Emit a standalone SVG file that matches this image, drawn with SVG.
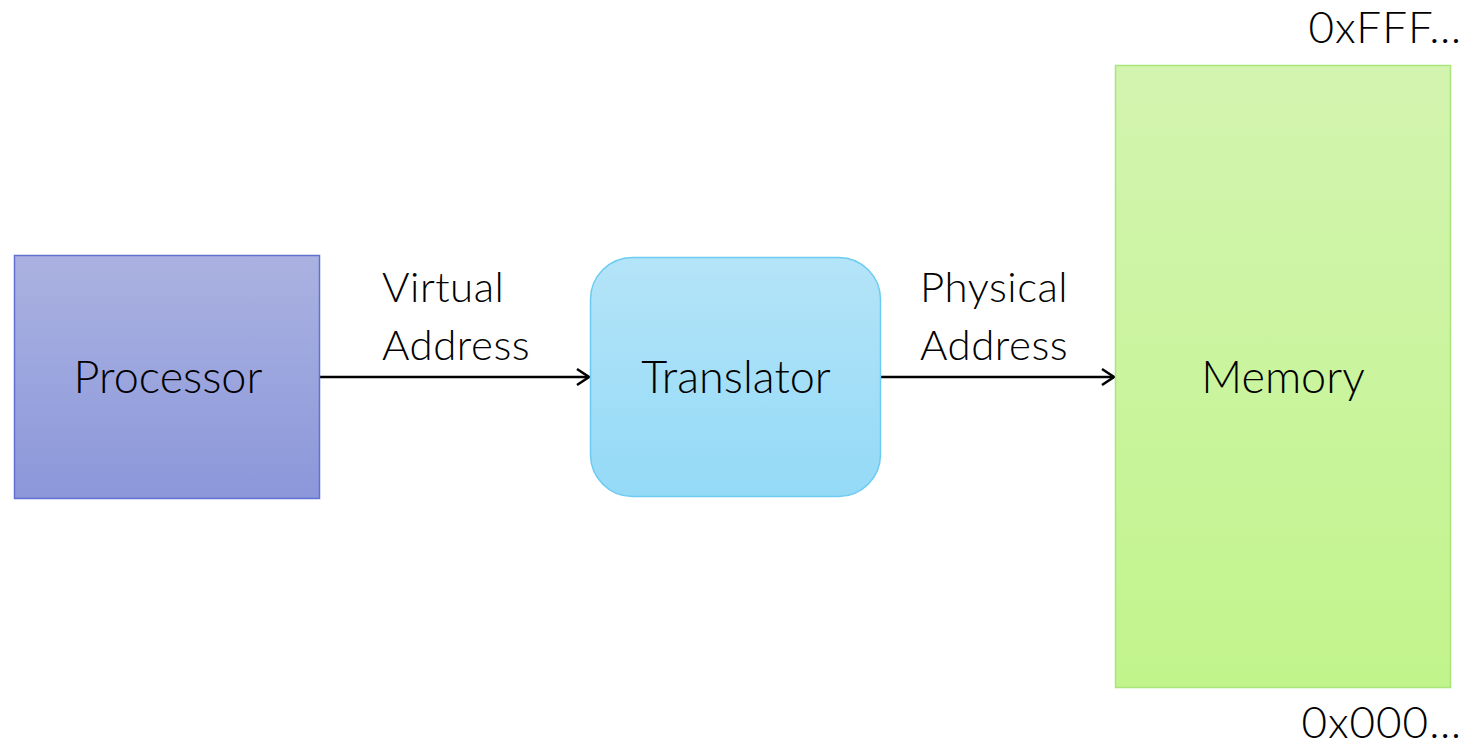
<svg xmlns="http://www.w3.org/2000/svg" width="1482" height="745" viewBox="0 0 1482 745">
  <style>
    text { font-family: "Lato", "Open Sans", "Liberation Sans", sans-serif; font-weight: 300; fill: #000; }
    .node { font-size: 45px; text-anchor: middle; }
    .lbl { font-size: 42px; letter-spacing: 0.5px; }
    .addr { font-size: 44px; text-anchor: end; letter-spacing: 1px; }
    .conn { stroke: #000; stroke-width: 2.5; fill: none; }
  </style>
  <defs>
    <linearGradient id="gProc" x1="0" y1="0" x2="0" y2="1">
      <stop offset="0" stop-color="#abb2e1"/>
      <stop offset="1" stop-color="#8b97da"/>
    </linearGradient>
    <linearGradient id="gTrans" x1="0" y1="0" x2="0" y2="1">
      <stop offset="0" stop-color="#b4e4f8"/>
      <stop offset="1" stop-color="#94daf7"/>
    </linearGradient>
    <linearGradient id="gMem" x1="0" y1="0" x2="0" y2="1">
      <stop offset="0" stop-color="#d3f4b0"/>
      <stop offset="1" stop-color="#c2f48c"/>
    </linearGradient>
    <marker id="arrow" viewBox="0 0 20 20" refX="18" refY="10" markerWidth="20" markerHeight="20" markerUnits="userSpaceOnUse" orient="auto">
      <path d="M6 2 L18 10 L6 18" fill="none" stroke="#000" stroke-width="2.5"/>
    </marker>
  </defs>

  <g id="connectors">
    <line class="conn" x1="320" y1="377" x2="589" y2="377" marker-end="url(#arrow)"/>
    <line class="conn" x1="881" y1="377" x2="1114" y2="377" marker-end="url(#arrow)"/>
    <text class="lbl" x="382" y="302">Virtual</text>
    <text class="lbl" x="382" y="360">Address</text>
    <text class="lbl" x="920" y="302">Physical</text>
    <text class="lbl" x="920" y="360">Address</text>
  </g>

  <g id="processor">
    <rect x="14.5" y="255.5" width="305" height="243" fill="url(#gProc)" stroke="#5f72d2" stroke-width="1.5"/>
    <text class="node" x="168" y="393">Processor</text>
  </g>

  <g id="translator">
    <rect x="590.5" y="257.5" width="290" height="239" rx="42" fill="url(#gTrans)" stroke="#6ccbf0" stroke-width="1.5"/>
    <text class="node" x="736" y="393">Translator</text>
  </g>

  <g id="memory">
    <rect x="1115.5" y="65.5" width="335" height="622" fill="url(#gMem)" stroke="#a9e57a" stroke-width="1.5"/>
    <text class="node" x="1283" y="393">Memory</text>
    <text class="addr" x="1462" y="43">0xFFF…</text>
    <text class="addr" x="1462" y="738">0x000…</text>
  </g>
</svg>
